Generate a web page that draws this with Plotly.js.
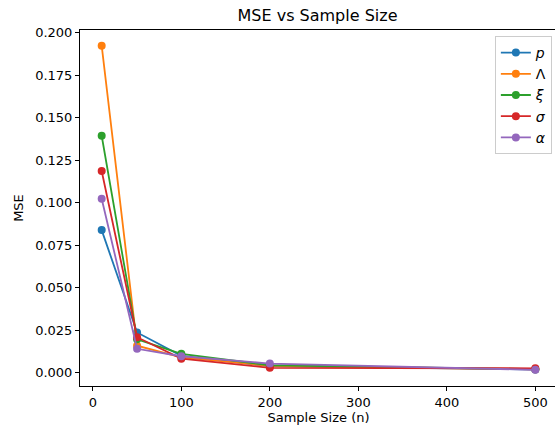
<!DOCTYPE html>
<html><head><meta charset="utf-8">
<script src="https://cdn.plot.ly/plotly-3.0.1.min.js"></script>
<style>html,body{margin:0;padding:0;background:#fff;overflow:hidden}</style>
</head><body>
<div id="chart" style="width:557px;height:431px"></div>
<script>
const sampleSizes = [10, 50, 100, 200, 500];
const seriesNames = ["<i>p</i>", "Λ", "<i>ξ</i>", "<i>σ</i>", "<i>α</i>"];
const mse_p = [0.0840, 0.0238, 0.0100, 0.0040, 0.0020];
const mse_Lambda = [0.1925, 0.0160, 0.0092, 0.0042, 0.0021];
const mse_xi = [0.1395, 0.0198, 0.0112, 0.0045, 0.0022];
const mse_sigma = [0.1188, 0.0210, 0.0084, 0.0030, 0.0027];
const mse_alpha = [0.1024, 0.0142, 0.0098, 0.0055, 0.0018];
const colors = ["#1f77b4", "#ff7f0e", "#2ca02c", "#d62728", "#9467bd"];
const allSeries = [mse_p, mse_Lambda, mse_xi, mse_sigma, mse_alpha];
const yTicks = [0, 0.025, 0.05, 0.075, 0.1, 0.125, 0.15, 0.175, 0.2];
const yTickText = ["0.000","0.025","0.050","0.075","0.100","0.125","0.150","0.175","0.200"];
const xTicks = [0, 100, 200, 300, 400, 500];

const traces = allSeries.map((ys, i) => ({
  x: sampleSizes, y: ys, name: seriesNames[i], type: "scatter", mode: "lines+markers",
  line: {color: colors[i], width: 1.8},
  marker: {color: colors[i], size: 8}
}));

const font = {family: "DejaVu Sans", size: 13, color: "#000"};
const layout = {
  width: 557, height: 431,
  margin: {l: 80, r: 0, t: 30, b: 45},
  paper_bgcolor: "#fff", plot_bgcolor: "#fff",
  font: font,
  title: {text: "MSE vs Sample Size", font: {family: "DejaVu Sans", size: 16, color: "#000"}, x: 317.5/557, xanchor: "center", y: 1 - 15/431, yanchor: "middle"},
  xaxis: {
    range: [-14.5, 524.5], tickvals: xTicks, ticktext: xTicks.map(String),
    showgrid: false, zeroline: false, showline: true, mirror: true, linecolor: "#000", linewidth: 1,
    ticks: "outside", ticklen: 4, tickcolor: "#000", tickfont: font,
    title: {text: "Sample Size (n)", font: font, standoff: 4}
  },
  yaxis: {
    range: [-0.0077, 0.2017], tickvals: yTicks, ticktext: yTickText,
    showgrid: false, zeroline: false, showline: true, mirror: true, linecolor: "#000", linewidth: 1,
    ticks: "outside", ticklen: 4, tickcolor: "#000", tickfont: font,
    title: {text: "MSE", font: font, standoff: 8}
  },
  showlegend: true,
  legend: {
    x: 551/557, xanchor: "right", y: 1 - 6/356, yanchor: "top", xref: "paper",
    bgcolor: "rgba(255,255,255,0.8)", bordercolor: "#cccccc", borderwidth: 1,
    font: {family: "DejaVu Sans", size: 14, color: "#000"},
    itemwidth: 30, tracegroupgap: 0
  }
};
Plotly.newPlot("chart", traces, layout, {displayModeBar: false, staticPlot: true});
</script>
</body></html>
